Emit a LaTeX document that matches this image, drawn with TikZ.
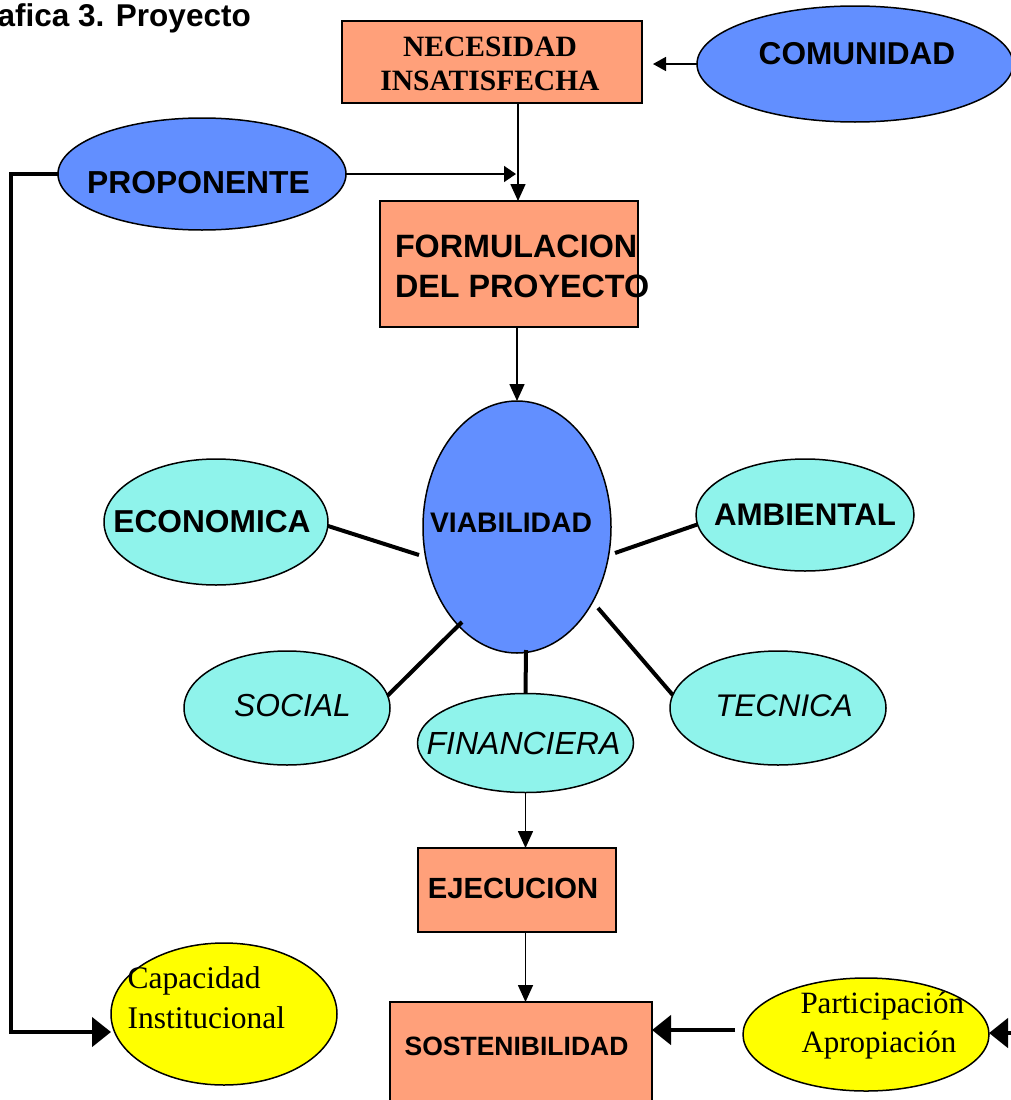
\documentclass[tikz,border=0pt]{standalone}
\usepackage{fontspec}
\setmainfont{Liberation Serif}
\setsansfont{Liberation Sans}
\usetikzlibrary{shapes.geometric,arrows.meta}
\definecolor{salmonc}{RGB}{255,160,122}
\definecolor{vblue}{RGB}{98,143,255}
\definecolor{vcyan}{RGB}{143,243,235}
\definecolor{vyellow}{RGB}{255,255,0}
\newcommand\mysfb[1]{\fontsize{#1}{#1}\selectfont\sffamily\bfseries}
\newcommand\mysfi[1]{\fontsize{#1}{#1}\selectfont\sffamily\itshape}
\newcommand\myrmb[1]{\fontsize{#1}{#1}\selectfont\rmfamily\bfseries}
\newcommand\myrm[1]{\fontsize{#1}{#1}\selectfont\rmfamily}
\begin{document}
\begin{tikzpicture}[x=1pt,y=-1pt,
  box/.style={draw=black,line width=2pt,fill=salmonc,inner sep=0pt,outer sep=0pt},
  oval/.style={ellipse,draw=black,line width=1.5pt,inner sep=0pt,outer sep=0pt},
  blueoval/.style={oval,fill=vblue},
  cyanoval/.style={oval,fill=vcyan},
  yeloval/.style={oval,fill=vyellow},
  lbl/.style={inner sep=0pt,outer sep=0pt,anchor=base},
  lblw/.style={inner sep=0pt,outer sep=0pt,anchor=base west},
  thinarrow/.style={line width=1.6pt,-{Triangle[length=17pt,width=15pt]}},
  spoke/.style={line width=4pt},
  thickarrow/.style={line width=4.5pt,-{Triangle[length=19pt,width=29pt]}},
]
\useasboundingbox (0,0) rectangle (1011,1100);
\clip (0,0) rectangle (1011,1100);

% title
\node[inner sep=0pt,anchor=base east] (title) at (251,27) {\mysfb{31.5}Grafica 3. Proyecto};

% boxes
\node[box,minimum width=300pt,minimum height=82pt] (nec) at (492,62) {};
\node[box,minimum width=258pt,minimum height=126pt] (form) at (509,264) {};
\node[box,minimum width=198pt,minimum height=84pt] (ejec) at (517,890) {};
\node[box,minimum width=262pt,minimum height=110pt] (sost) at (521,1057) {};

% ovals
\node[blueoval,minimum width=316pt,minimum height=116pt] (comu) at (855,64) {};
\node[blueoval,minimum width=288pt,minimum height=112pt] (prop) at (202,174) {};
\node[blueoval,minimum width=188pt,minimum height=252pt] (viab) at (517,527) {};
\node[cyanoval,minimum width=224pt,minimum height=126pt] (econ) at (216,522) {};
\node[cyanoval,minimum width=218pt,minimum height=112pt] (amb) at (805,515) {};
\node[cyanoval,minimum width=206pt,minimum height=114pt] (soc) at (287,708) {};
\node[cyanoval,minimum width=216pt,minimum height=99pt] (fin) at (525.5,743) {};
\node[cyanoval,minimum width=216pt,minimum height=114pt] (tec) at (778,708) {};
\node[yeloval,minimum width=226pt,minimum height=142pt] (cap) at (224,1014) {};
\node[yeloval,minimum width=246pt,minimum height=113pt] (part) at (866,1034.5) {};

% texts
\node[lbl] (necA) at (490,56.7) {\myrmb{29.5}NECESIDAD};
\node[lbl] (necB) at (490,90) {\myrmb{29.5}INSATISFECHA};
\node[lblw] (formA) at (395,257) {\mysfb{32.3}FORMULACION};
\node[lblw] (formB) at (395,297) {\mysfb{32.3}DEL PROYECTO};
\node[lbl] (comuT) at (857,64) {\mysfb{31.6}COMUNIDAD};
\node[lbl] (propT) at (198.5,193) {\mysfb{31.8}PROPONENTE};
\node[lbl] (viabT) at (511,532.7) {\mysfb{28.3}VIABILIDAD};
\node[lbl] (econT) at (212,532.7) {\mysfb{31.7}ECONOMICA};
\node[lbl] (ambT) at (805,525) {\mysfb{31.3}AMBIENTAL};
\node[lbl] (socT) at (292.5,716) {\mysfi{31.8}SOCIAL};
\node[lbl] (finT) at (523.5,754) {\mysfi{32}FINANCIERA};
\node[lbl] (tecT) at (784,716) {\mysfi{31.3}TECNICA};
\node[lbl] (ejecT) at (513,898.3) {\mysfb{29.2}EJECUCION};
\node[lbl] (sostT) at (516.5,1055) {\mysfb{26.5}SOSTENIBILIDAD};
\node[lblw] (capA) at (127.7,988) {\myrm{31.5}Capacidad};
\node[lblw] (capB) at (127.7,1028) {\myrm{31.5}Institucional};
\node[lblw] (partA) at (800.5,1013) {\myrm{31}Participación};
\node[lblw] (partB) at (801.5,1052.7) {\myrm{31}Apropiación};

% helper coordinates
\coordinate (comutip) at (653,64);
\coordinate (proptip) at (516,174);
\coordinate (x518) at (518,0);
\coordinate (sp1) at (419,555);
\coordinate (sp2) at (615,553);
\coordinate (sp3) at (462,622);
\coordinate (sp4) at (526,650);
\coordinate (sp5) at (598,608);
\coordinate (pstart) at (735,1030);
\coordinate (rstart) at (1020,1033);
\coordinate (Lx) at (11,1032);

% connectors
\draw[thinarrow,-{Triangle[length=13pt,width=14pt]}] (comu.west) -- (comutip);
\draw[thinarrow,-{Triangle[length=12pt,width=16pt]}] (prop.east) -- (proptip);
\draw[thinarrow] (nec.south -| x518) -- (form.north -| x518);
\draw[thinarrow] (form.south -| viab.north) -- (viab.north);
\draw[spoke] (econ.-2.4) -- (sp1);
\draw[spoke] (amb.185) -- (sp2);
\draw[spoke] (soc.7) -- (sp3);
\draw[spoke] (fin.north) -- (sp4);
\draw[spoke] (tec.173) -- (sp5);
\draw[thinarrow] (fin.south) -- (fin.south |- ejec.north);
\draw[thinarrow] (ejec.south -| fin.south) -- (sost.north -| fin.south);
\draw[thickarrow] (pstart) -- (sost.east |- pstart);
\draw[thickarrow] (rstart) -- (part.east |- rstart);
\draw[thickarrow] (prop.west) -| (Lx) -- (cap.west |- Lx);
\end{tikzpicture}
\end{document}
